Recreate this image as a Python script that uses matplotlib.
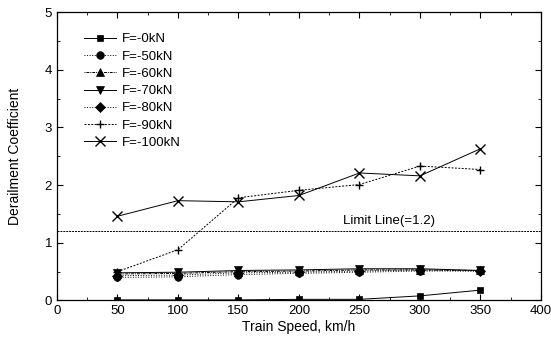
import matplotlib
matplotlib.use("Agg")
import matplotlib.pyplot as plt
from matplotlib.ticker import MultipleLocator

plt.rcParams['font.family'] = ['Liberation Sans', 'DejaVu Sans']

speeds = [50, 100, 150, 200, 250, 300, 350]
f0 = [0.01, 0.01, 0.01, 0.02, 0.02, 0.08, 0.18]
f50 = [0.40, 0.41, 0.45, 0.47, 0.49, 0.51, 0.51]
f60 = [0.46, 0.47, 0.50, 0.51, 0.53, 0.53, 0.52]
f70 = [0.48, 0.49, 0.52, 0.53, 0.55, 0.55, 0.52]
f80 = [0.43, 0.44, 0.48, 0.49, 0.51, 0.53, 0.51]
f90 = [0.50, 0.88, 1.78, 1.91, 2.01, 2.33, 2.27]
f100 = [1.46, 1.73, 1.71, 1.82, 2.21, 2.16, 2.63]
labels = ['F=-0kN', 'F=-50kN', 'F=-60kN', 'F=-70kN', 'F=-80kN', 'F=-90kN', 'F=-100kN']
limit_value = 1.2

fig = plt.figure(figsize=(5.51, 3.39), dpi=100)
ax = fig.add_axes([0.1034, 0.1136, 0.8784, 0.851])

series = [f0, f50, f60, f70, f80, f90, f100]
markers = ['s', 'o', '^', 'v', 'D', '+', 'x']
styles = ['-', ':', (0, (1, 1, 3, 1)), '-', ':', (0, (2, 1.5)), '-']
msizes = [5, 5.5, 5.5, 5.5, 5, 6, 7]
for y, m, ls, ms, lab in zip(series, markers, styles, msizes, labels):
    ax.plot(speeds, y, color='black', linestyle=ls, linewidth=0.7, marker=m,
            markersize=ms, markeredgewidth=1.0 if m in '+x' else 0.5,
            label=lab)

ax.axhline(limit_value, color='black', linestyle=(0, (2, 1)), linewidth=0.7)
ax.text(236, 1.27, 'Limit Line(=1.2)', fontsize=9.5, ha='left', va='bottom')

ax.set_xlim(0, 400)
ax.set_ylim(0, 5)
ax.xaxis.set_major_locator(MultipleLocator(50))
ax.xaxis.set_minor_locator(MultipleLocator(25))
ax.yaxis.set_major_locator(MultipleLocator(1))
ax.yaxis.set_minor_locator(MultipleLocator(0.5))
ax.tick_params(which='both', direction='in', top=True, right=True, labelsize=9.5)
ax.tick_params(which='major', length=4, width=0.8)
ax.tick_params(which='minor', length=2, width=0.6)
for s in ax.spines.values():
    s.set_linewidth(0.9)

ax.set_xlabel('Train Speed, km/h', fontsize=10, labelpad=2)
ax.set_ylabel('Derailment Coefficient', fontsize=10, labelpad=16)

ax.legend(loc='upper left', bbox_to_anchor=(0.045, 0.945), frameon=False,
          fontsize=9.5, handlelength=2.4, handletextpad=0.5,
          labelspacing=0.38, borderaxespad=0.0)

fig.savefig('out.png', dpi=100)
